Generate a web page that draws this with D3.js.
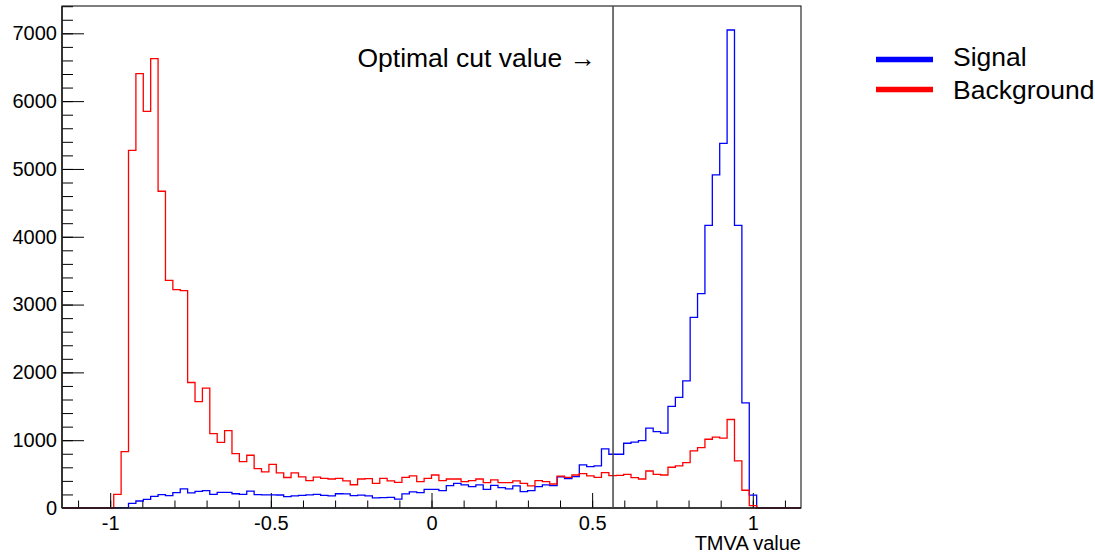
<!DOCTYPE html>
<html>
  <body>
    <script src="https://cdn.jsdelivr.net/npm/d3@7"></script>
    <style>
      body{ margin: 0; background: #fff; font-family: "Liberation Sans", Arial, sans-serif;}
      .axis text{ font-size: 20px; fill: #000; font-family: "Liberation Sans", Arial, sans-serif;}
      .axis path, .axis line{ stroke: #000;}
      .hist{ fill: none; stroke-width: 1.3;}
    </style>
    <script>
// 100 bins from -1.15 to 1.15
var binLo = -1.15, binHi = 1.15, nBins = 100
var background = [
  0, 0, 0, 0, 0, 0, 0, 202, 832, 5273,
  6405, 5848, 6626, 4671, 3357, 3219, 3205, 1851, 1570, 1767,
  1098, 968, 1140, 802, 684, 778, 582, 532, 642, 517,
  450, 517, 460, 404, 455, 436, 428, 436, 399, 343,
  428, 433, 364, 438, 399, 379, 453, 473, 389, 438,
  487, 404, 428, 428, 389, 404, 428, 374, 414, 374,
  374, 399, 364, 325, 404, 389, 354, 470, 453, 487,
  507, 473, 453, 522, 478, 482, 497, 448, 428, 546,
  497, 487, 601, 620, 669, 842, 891, 1014, 1044, 1029,
  1305, 694, 262, 35, 0, 0, 0, 0, 0, 0
]
var signal = [
  0, 0, 0, 0, 0, 0, 0, 4, 6, 69,
  103, 128, 172, 197, 182, 226, 283, 222, 246, 256,
  202, 231, 229, 210, 200, 250, 197, 195, 195, 192,
  167, 180, 185, 195, 200, 185, 180, 210, 207, 182,
  190, 180, 150, 153, 158, 130, 207, 238, 227, 276,
  276, 256, 330, 364, 340, 315, 340, 276, 335, 300,
  281, 325, 241, 256, 315, 340, 330, 458, 433, 463,
  635, 610, 620, 871, 793, 793, 955, 970, 994, 1177,
  1127, 1103, 1500, 1630, 1875, 2811, 3160, 4169, 4913, 5376,
  7049, 4169, 1550, 190, 0, 0, 0, 0, 0, 0
]
var xTicks = [-1, -0.5, 0, 0.5, 1]
var yTicks = [0, 1000, 2000, 3000, 4000, 5000, 6000, 7000]
var cutValue = 0.565
var legendItems = [{name: 'Signal', color: '#0000ff'}, {name: 'Background', color: '#ff0000'}]

var W = 1095, H = 553
  , padL = 62, padR = 801, padT = 6, padB = 508
  , yMax = 7403
  , svg = d3.select('body').append('svg').attr('width', W).attr('height', H)

var x = d3.scaleLinear().domain([binLo, binHi]).range([padL, padR])
var y = d3.scaleLinear().domain([0, yMax]).range([padB, padT])
var bw = (binHi - binLo) / nBins

function stepPoints(vals){
  var pts = [[binLo, 0]]
  vals.forEach(function(v, i){
    pts.push([binLo + i * bw, v])
    pts.push([binLo + (i + 1) * bw, v])
  })
  pts.push([binHi, 0])
  return pts
}
var line = d3.line().x(function(d){ return x(d[0]) }).y(function(d){ return y(d[1]) })

// minor ticks
svg.append('g').attr('class', 'axis').attr('transform', 'translate(0,' + padB + ')')
  .call(d3.axisBottom(x).tickValues(d3.range(-11, 12).map(function(d){ return d / 10 }))
    .tickSizeInner(-7.5).tickSizeOuter(0).tickFormat(''))
svg.append('g').attr('class', 'axis').attr('transform', 'translate(' + padL + ',0)')
  .call(d3.axisLeft(y).tickValues(d3.range(0, 7401, 200))
    .tickSizeInner(-11).tickSizeOuter(0).tickFormat(''))

// major ticks + labels
svg.append('g').attr('class', 'axis').attr('transform', 'translate(0,' + padB + ')')
  .call(d3.axisBottom(x).tickValues(xTicks).tickSizeInner(-15).tickSizeOuter(0)
    .tickPadding(8).tickFormat(function(d){ return String(d) }))
svg.append('g').attr('class', 'axis').attr('transform', 'translate(' + padL + ',0)')
  .call(d3.axisLeft(y).tickValues(yTicks).tickSizeInner(-22).tickSizeOuter(0)
    .tickPadding(5).tickFormat(function(d){ return String(d) }))

svg.selectAll('.axis path').remove()

// histograms
svg.append('path').attr('class', 'hist').attr('stroke', '#0000ff').attr('d', line(stepPoints(signal)))
svg.append('path').attr('class', 'hist').attr('stroke', '#ff0000').attr('d', line(stepPoints(background)))

// frame
svg.append('rect').attr('x', padL).attr('y', padT).attr('width', padR - padL).attr('height', padB - padT)
  .attr('fill', 'none').attr('stroke', '#000').attr('stroke-width', 1)
svg.append('line').attr('x1', padL).attr('x2', padL).attr('y1', padT).attr('y2', padB)
  .attr('stroke', '#222').attr('stroke-width', 1.6)
svg.append('line').attr('x1', padL).attr('x2', padR).attr('y1', padB).attr('y2', padB)
  .attr('stroke', '#222').attr('stroke-width', 1.6)

// cut line
svg.append('line').attr('x1', x(cutValue)).attr('x2', x(cutValue)).attr('y1', padT).attr('y2', padB)
  .attr('stroke', '#444').attr('stroke-width', 1.5)
svg.append('text').text('Optimal cut value \u2192').attr('x', x(cutValue) - 17).attr('y', 67)
  .attr('text-anchor', 'end').style('font-size', '26.5px')

// x title
svg.append('text').text('TMVA value').attr('x', padR).attr('y', 550)
  .attr('text-anchor', 'end').style('font-size', '20px')

// legend
var lg = svg.selectAll('.leg').data(legendItems).enter().append('g')
lg.append('line').attr('x1', 876).attr('x2', 933)
  .attr('y1', function(d, i){ return 59.5 + i * 30 }).attr('y2', function(d, i){ return 59.5 + i * 30 })
  .attr('stroke', function(d){ return d.color }).attr('stroke-width', 5.5)
lg.append('text').text(function(d){ return d.name }).attr('x', 953)
  .attr('y', function(d, i){ return 65.5 + i * 33.5 })
  .style('font-size', '26.5px')
    </script>
  </body>
</html>
